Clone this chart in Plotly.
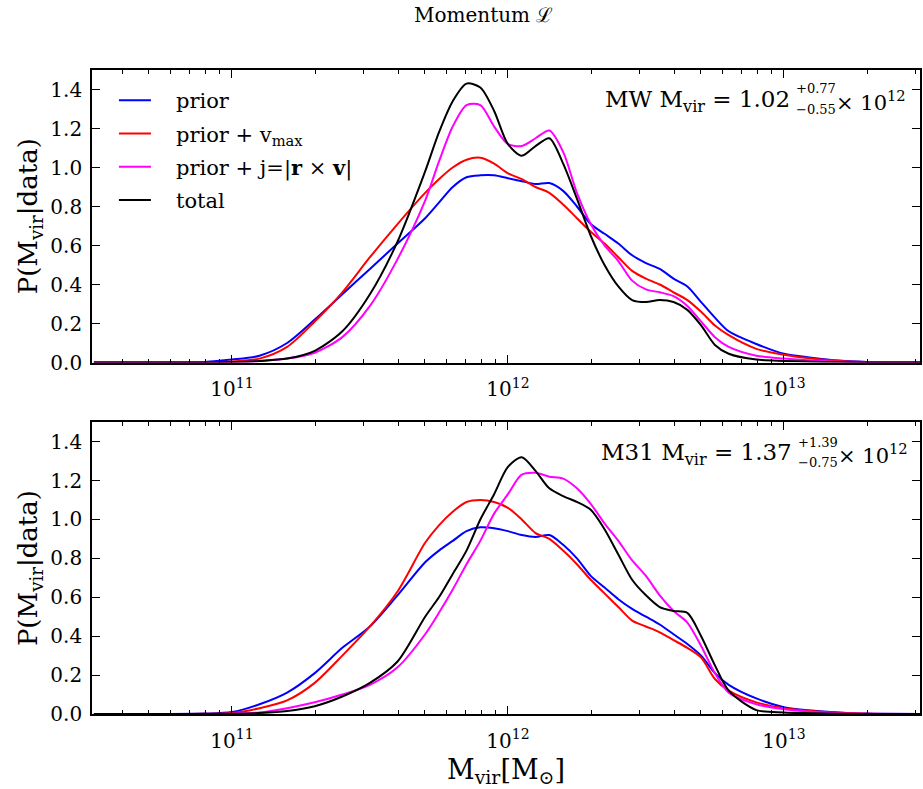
import plotly.graph_objects as go
from plotly.subplots import make_subplots

# ---------------- data (log10 Mvir grid and probability densities) ----------------
LOGM = [10.5, 10.9, 11.0, 11.1, 11.2, 11.3, 11.4, 11.5, 11.6, 11.7, 11.75, 11.8, 11.85, 11.9, 11.95,
        12.0, 12.05, 12.1, 12.15, 12.2, 12.25, 12.3, 12.35, 12.4, 12.45, 12.5, 12.55, 12.6, 12.65,
        12.7, 12.75, 12.8, 12.9, 13.0, 13.1, 13.2, 13.3, 13.5]

mw_prior = [0, 0.003, 0.015, 0.035, 0.10, 0.22, 0.35, 0.48, 0.61, 0.74, 0.82, 0.90, 0.95, 0.96, 0.96,
            0.945, 0.93, 0.915, 0.92, 0.88, 0.80, 0.71, 0.66, 0.61, 0.55, 0.51, 0.48, 0.43, 0.39,
            0.31, 0.23, 0.16, 0.095, 0.045, 0.025, 0.01, 0.003, 0]
mw_vmax = [0, 0.001, 0.005, 0.02, 0.08, 0.21, 0.36, 0.54, 0.71, 0.87, 0.94, 1.0, 1.04, 1.05, 1.02,
           0.97, 0.94, 0.90, 0.87, 0.81, 0.74, 0.67, 0.61, 0.54, 0.47, 0.43, 0.40, 0.36, 0.32,
           0.26, 0.19, 0.14, 0.07, 0.04, 0.02, 0.008, 0.002, 0]
mw_j = [0, 0, 0.002, 0.008, 0.02, 0.05, 0.13, 0.29, 0.53, 0.83, 1.03, 1.21, 1.32, 1.32, 1.21,
        1.12, 1.11, 1.15, 1.19, 1.08, 0.87, 0.71, 0.60, 0.52, 0.42, 0.375, 0.36, 0.34, 0.29,
        0.21, 0.13, 0.08, 0.035, 0.02, 0.01, 0.004, 0.001, 0]
mw_total = [0, 0, 0.002, 0.008, 0.02, 0.06, 0.16, 0.35, 0.62, 0.98, 1.18, 1.34, 1.43, 1.41, 1.29,
            1.12, 1.06, 1.11, 1.15, 1.02, 0.84, 0.65, 0.50, 0.39, 0.32, 0.31, 0.32, 0.31, 0.27,
            0.19, 0.09, 0.045, 0.015, 0.008, 0.004, 0.001, 0, 0]

m31_prior = [0, 0.002, 0.01, 0.05, 0.11, 0.21, 0.34, 0.45, 0.61, 0.78, 0.84, 0.89, 0.94, 0.96, 0.955,
             0.94, 0.92, 0.91, 0.92, 0.87, 0.80, 0.71, 0.65, 0.59, 0.54, 0.50, 0.46, 0.41, 0.36,
             0.30, 0.21, 0.15, 0.08, 0.035, 0.018, 0.008, 0.002, 0]
m31_vmax = [0, 0.001, 0.005, 0.03, 0.07, 0.16, 0.30, 0.45, 0.63, 0.88, 0.97, 1.04, 1.09, 1.10, 1.09,
            1.06, 1.0, 0.93, 0.90, 0.84, 0.77, 0.69, 0.62, 0.55, 0.48, 0.45, 0.42, 0.38, 0.34,
            0.29, 0.18, 0.12, 0.06, 0.03, 0.015, 0.006, 0.001, 0]
m31_j = [0, 0, 0.003, 0.008, 0.03, 0.06, 0.10, 0.15, 0.24, 0.41, 0.52, 0.64, 0.77, 0.89, 1.03,
         1.13, 1.23, 1.24, 1.22, 1.21, 1.16, 1.08, 0.98, 0.89, 0.79, 0.71, 0.61, 0.53, 0.47,
         0.35, 0.21, 0.11, 0.05, 0.025, 0.012, 0.004, 0.001, 0]
m31_total = [0, 0, 0.001, 0.005, 0.015, 0.04, 0.09, 0.16, 0.27, 0.50, 0.60, 0.72, 0.84, 1.0, 1.13,
             1.27, 1.32, 1.25, 1.16, 1.12, 1.09, 1.05, 0.95, 0.82, 0.69, 0.61, 0.55, 0.53, 0.52,
             0.40, 0.25, 0.12, 0.02, 0.008, 0.004, 0.001, 0, 0]

SERIES_NAMES = ["prior", "prior + v<sub>max</sub>", "prior + j=|<b>r</b> × <b>v</b>|", "total"]
COLORS = ["#0000ff", "#ff0000", "#ff00ff", "#000000"]
MW = [mw_prior, mw_vmax, mw_j, mw_total]
M31 = [m31_prior, m31_vmax, m31_j, m31_total]

MASS = [10 ** v for v in LOGM]

# ---------------- figure ----------------
W, H = 923, 789
ML, MR, MT, MB = 92, 1, 70, 75
PW, PH = W - ML - MR, H - MT - MB

def px(x):
    return (x - ML) / PW

def py(y):
    return (MT + PH - y) / PH

fig = make_subplots(rows=2, cols=1)
FONT = "DejaVu Serif"
PAD = "\u00a0\u00a0\u00a0"

for panel, data in enumerate([MW, M31]):
    for i, ys in enumerate(data):
        fig.add_trace(go.Scatter(
            x=MASS, y=ys, mode="lines", name=PAD + SERIES_NAMES[i],
            line=dict(color=COLORS[i], width=2, shape="spline", smoothing=0.8),
            showlegend=(panel == 0), legendgroup=str(i),
        ), row=panel + 1, col=1)

minor_vals = [m * 10 ** e for e in range(10, 14) for m in range(2, 10)]
xcommon = dict(type="log", range=[10.493, 13.493], showgrid=False, zeroline=False,
               showline=True, linecolor="black", linewidth=1.7, mirror="ticks",
               ticks="inside", ticklen=8, tickwidth=1, tickcolor="black",
               tickvals=[1e11, 1e12, 1e13],
               ticktext=["10<sup>11</sup>", "10<sup>12</sup>", "10<sup>13</sup>"],
               tickfont=dict(family=FONT, size=20, color="black"),
               ticklabelstandoff=8,
               minor=dict(ticks="inside", ticklen=4, tickvals=minor_vals, tickcolor="black",
                          showgrid=False))
ycommon = dict(range=[0, 1.5], showgrid=False, zeroline=False, showline=True, linecolor="black",
               linewidth=1.7, mirror="ticks", ticks="inside", ticklen=8, tickcolor="black",
               tickvals=[0, 0.2, 0.4, 0.6, 0.8, 1.0, 1.2, 1.4], tickformat=".1f",
               tickfont=dict(family=FONT, size=20, color="black"), ticklabelstandoff=4,
               title=dict(text="P(M<sub>vir</sub>|data)", font=dict(family=FONT, size=26, color="black"),
                          standoff=5))

fig.update_xaxes(**xcommon)
fig.update_yaxes(**ycommon)
fig.update_xaxes(domain=[0, 1], row=1, col=1)
fig.update_xaxes(domain=[0, 1], row=2, col=1,
                 title=dict(text="M<sub>vir</sub>[M<sub>⊙</sub>]",
                            font=dict(family=FONT, size=27, color="black"), standoff=8))
fig.update_yaxes(domain=[1 - 292.5 / PH, 1], row=1, col=1)
fig.update_yaxes(domain=[0, (713.5 - 421.7) / PH], row=2, col=1)

ann = []
def text(x, y, s, size, xanchor):
    ann.append(dict(x=px(x), y=py(y), xref="paper", yref="paper", text=s, showarrow=False,
                    xanchor=xanchor, yanchor="middle",
                    font=dict(family=FONT, size=size, color="black")))

# MW annotation
text(794, 101, "MW M<sub>vir</sub> = 1.02", 23, "right")
text(796, 89, "+0.77", 13, "left")
text(796, 109, "−0.55", 13, "left")
text(836, 101, "× 10<sup>12</sup>", 21, "left")
# M31 annotation
text(796, 454, "M31 M<sub>vir</sub> = 1.37", 23, "right")
text(798, 442, "+1.39", 13, "left")
text(798, 462, "−0.75", 13, "left")
text(838, 454, "× 10<sup>12</sup>", 21, "left")
# suptitle
text(484, 15, "Momentum ℒ", 20, "center")

fig.update_layout(
    width=W, height=H, margin=dict(l=ML, r=MR, t=MT, b=MB),
    paper_bgcolor="white", plot_bgcolor="white",
    font=dict(family=FONT, color="black"),
    annotations=ann,
    legend=dict(x=px(114), y=py(80), xanchor="left", yanchor="top",
                bgcolor="rgba(0,0,0,0)", borderwidth=0,
                font=dict(family=FONT, size=21, color="black"),
                tracegroupgap=3, itemwidth=32),
)

fig.write_html("out.html")
